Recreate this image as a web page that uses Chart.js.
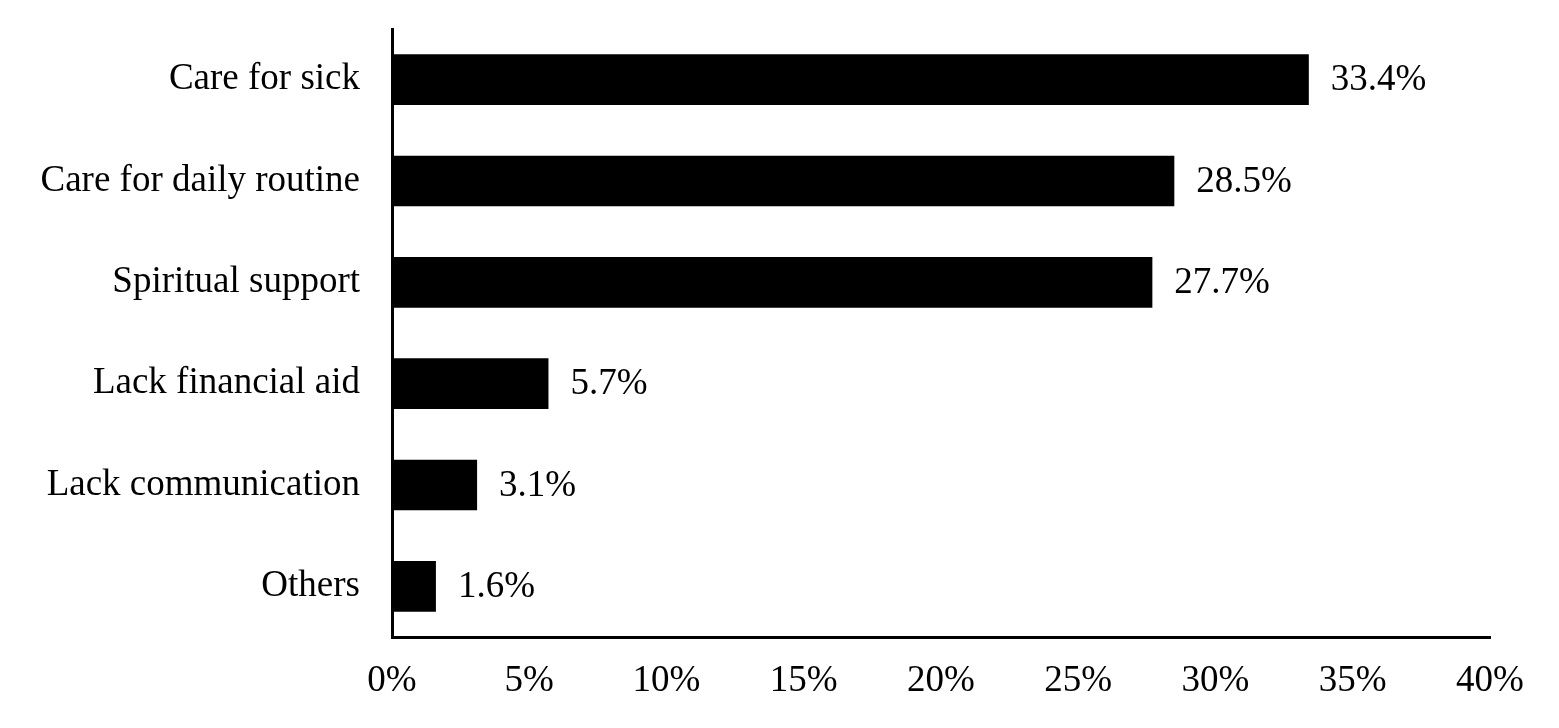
<!DOCTYPE html>
<html>
<head>
<meta charset="utf-8">
<script src="https://cdn.jsdelivr.net/npm/chart.js@4/dist/chart.umd.min.js"></script>
<style>
  html, body { margin: 0; padding: 0; background: #fff; }
  #wrap { width: 1559px; height: 728px; }
</style>
</head>
<body>
<div id="wrap"><canvas id="myChart" width="1559" height="728"></canvas></div>
<script>
"use strict";
var categories = [
    "Care for sick",
    "Care for daily routine",
    "Spiritual support",
    "Lack financial aid",
    "Lack communication",
    "Others",
];
var percentages = [33.4, 28.5, 27.7, 5.7, 3.1, 1.6];
var tickValues = [0, 5, 10, 15, 20, 25, 30, 35, 40];

var fontFamily = "'Liberation Serif', 'Times New Roman', serif";
var fontSize = 37;

// draws the "33.4%" labels next to each bar
var valueLabels = {
    id: "valueLabels",
    afterDatasetsDraw: function (chart) {
        var ctx = chart.ctx;
        var meta = chart.getDatasetMeta(0);
        ctx.save();
        ctx.font = fontSize + "px " + fontFamily;
        ctx.fillStyle = "#000";
        ctx.textAlign = "left";
        ctx.textBaseline = "middle";
        meta.data.forEach(function (bar, i) {
            ctx.fillText(percentages[i].toFixed(1) + "%", bar.x + 22, bar.y + 1);
        });
        ctx.restore();
    },
};

var ctx = document.getElementById("myChart").getContext("2d");
var myChart = new Chart(ctx, {
    type: "bar",
    data: {
        labels: categories,
        datasets: [
            {
                data: percentages,
                backgroundColor: "#000",
                borderWidth: 0,
                barPercentage: 0.5,
                categoryPercentage: 1,
            },
        ],
    },
    options: {
        indexAxis: "y",
        responsive: false,
        animation: false,
        layout: {
            padding: { top: 29, right: 69, bottom: 0, left: 0 },
        },
        plugins: {
            legend: { display: false },
            tooltip: { enabled: false },
        },
        scales: {
            x: {
                min: 0,
                max: 40,
                afterBuildTicks: function (scale) {
                    scale.ticks = tickValues.map(function (v) {
                        return { value: v };
                    });
                },
                grid: { display: false, drawTicks: false },
                border: { display: true, color: "#000", width: 3 },
                ticks: {
                    color: "#000",
                    padding: 22,
                    maxRotation: 0,
                    font: { family: fontFamily, size: fontSize },
                    callback: function (v) {
                        return v + "%";
                    },
                },
                afterFit: function (scale) {
                    scale.height = 91;
                },
            },
            y: {
                grid: { display: false, drawTicks: false },
                border: { display: true, color: "#000", width: 3 },
                ticks: {
                    color: "#000",
                    padding: 32,
                    font: { family: fontFamily, size: fontSize },
                },
                afterFit: function (scale) {
                    scale.width = 392;
                    scale.paddingTop = 0;
                    scale.paddingBottom = 0;
                },
            },
        },
    },
    plugins: [valueLabels],
});
</script>
</body>
</html>
